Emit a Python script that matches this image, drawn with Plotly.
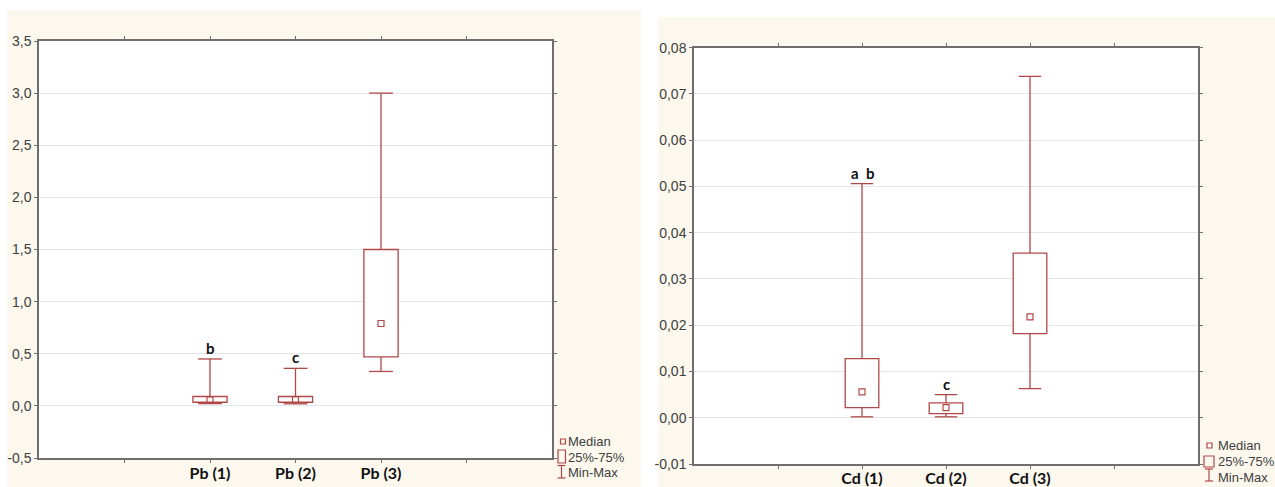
import plotly.graph_objects as go

# ---------------- data ----------------
pb_cats = ["Pb (1)", "Pb (2)", "Pb (3)"]
pb_min = [0.022, 0.020, 0.33]
pb_q1 = [0.035, 0.035, 0.47]
pb_med = [0.057, 0.060, 0.79]
pb_q3 = [0.090, 0.090, 1.50]
pb_max = [0.45, 0.36, 3.00]
pb_letters = ["b", "c", ""]

cd_cats = ["Cd (1)", "Cd (2)", "Cd (3)"]
cd_min = [0.0002, 0.0002, 0.0063]
cd_q1 = [0.0022, 0.0009, 0.0182]
cd_med = [0.0056, 0.0022, 0.0218]
cd_q3 = [0.0128, 0.0032, 0.0356]
cd_max = [0.0506, 0.0050, 0.0738]
cd_letters = ["a b", "c", ""]

pb_yticks = [-0.5, 0.0, 0.5, 1.0, 1.5, 2.0, 2.5, 3.0, 3.5]
cd_yticks = [-0.01, 0.0, 0.01, 0.02, 0.03, 0.04, 0.05, 0.06, 0.07, 0.08]

legend_labels = ["Median", "25%-75%", "Min-Max"]

# ---------------- style ----------------
W, H = 1275, 487
RED = "#B04848"
CREAM = "#FCF8EE"
AXIS = "#6E6E6E"
GRID = "#E6E6E6"
TXT = "#404040"


def px(x):
    return x / W


def py(y):
    return 1 - y / H


fig = go.Figure()
annotations = []


def add_panel(cats, vmin, q1, med, q3, vmax, letters, xa, ya, cap):
    pos = [i + 2 for i in range(len(cats))]
    fig.add_trace(go.Bar(
        x=pos, y=[b - a for a, b in zip(q1, q3)], base=q1, width=0.4,
        marker=dict(color="white", line=dict(color=RED, width=1.3)),
        xaxis=xa, yaxis=ya, showlegend=False, hoverinfo="skip"))
    wx, wy = [], []
    for p, lo, a, b, hi in zip(pos, vmin, q1, q3, vmax):
        wx += [p, p, None, p, p, None]
        wy += [b, hi, None, a, lo, None]
    fig.add_trace(go.Scatter(
        x=wx, y=wy, mode="lines", line=dict(color=RED, width=1.3),
        xaxis=xa, yaxis=ya, showlegend=False, hoverinfo="skip"))
    fig.add_trace(go.Scatter(
        x=pos + pos, y=vmin + vmax, mode="markers",
        marker=dict(symbol="line-ew", size=cap, line=dict(color=RED, width=1.3)),
        xaxis=xa, yaxis=ya, showlegend=False, hoverinfo="skip"))
    fig.add_trace(go.Scatter(
        x=pos, y=med, mode="markers",
        marker=dict(symbol="square-open", size=6, color=RED, line=dict(width=1.2)),
        xaxis=xa, yaxis=ya, showlegend=False))
    xref = "x" if xa == "x" else "x2"
    yref = "y" if ya == "y" else "y2"
    for p, hi, t in zip(pos, vmax, letters):
        if t:
            annotations.append(dict(x=p, y=hi, xref=xref, yref=yref,
                                    text="<b>" + t.replace(" ", "\u00a0\u00a0") + "</b>",
                                    showarrow=False, yanchor="middle", yshift=11,
                                    font=dict(family="Lato, Arial", size=15, color="#111111")))
    return pos


pb_pos = add_panel(pb_cats, pb_min, pb_q1, pb_med, pb_q3, pb_max, pb_letters, "x", "y", 17)
cd_pos = add_panel(cd_cats, cd_min, cd_q1, cd_med, cd_q3, cd_max, cd_letters, "x2", "y2", 16)

# plot-area pixel boxes
L_BOX = (39, 552, 41, 458)
R_BOX = (694, 1198, 47.7, 464)

shapes = [
    dict(type="rect", xref="paper", yref="paper", x0=px(7), x1=px(641), y0=py(487), y1=py(10),
         fillcolor=CREAM, line=dict(width=0), layer="below"),
    dict(type="rect", xref="paper", yref="paper", x0=px(658), x1=px(1275), y0=py(487), y1=py(17),
         fillcolor=CREAM, line=dict(width=0), layer="below"),
]
for b in (L_BOX, R_BOX):
    shapes.append(dict(type="rect", xref="paper", yref="paper", x0=px(b[0]), x1=px(b[1]),
                       y0=py(b[3]), y1=py(b[2]), fillcolor="white", line=dict(width=0), layer="below"))


def add_legend(sq, box, mm, tx, ty, fs):
    shapes.append(dict(type="rect", xref="paper", yref="paper",
                       x0=px(sq[0] - 2.5), x1=px(sq[0] + 2.5), y0=py(sq[1] + 2.5), y1=py(sq[1] - 2.5),
                       line=dict(color=RED, width=1.2), fillcolor="rgba(0,0,0,0)"))
    shapes.append(dict(type="rect", xref="paper", yref="paper",
                       x0=px(box[0]), x1=px(box[1]), y0=py(box[3]), y1=py(box[2]),
                       line=dict(color=RED, width=1.2), fillcolor="rgba(0,0,0,0)"))
    cx = mm[0]
    shapes.append(dict(type="line", xref="paper", yref="paper",
                       x0=px(cx), x1=px(cx), y0=py(mm[1]), y1=py(mm[2]), line=dict(color=RED, width=1.2)))
    for yy in (mm[1], mm[2]):
        shapes.append(dict(type="line", xref="paper", yref="paper",
                           x0=px(cx - 4), x1=px(cx + 4), y0=py(yy), y1=py(yy), line=dict(color=RED, width=1.2)))
    for lab, yy in zip(legend_labels, ty):
        annotations.append(dict(xref="paper", yref="paper", x=px(tx), y=py(yy), text=lab,
                                showarrow=False, xanchor="left", yanchor="middle",
                                font=dict(family="Liberation Sans, Arial", size=fs, color=TXT)))


add_legend((563, 441.5), (558, 565.5, 450, 463), (561.5, 465.5, 478), 566, (441, 457, 472), 13)
add_legend((1209.5, 445.5), (1204, 1214, 456, 467), (1209, 469, 481), 1216, (445.5, 461, 477), 13)

xfont = dict(family="Lato, Arial", size=16, color="#111111", weight="bold")
yfont = dict(family="Liberation Sans, Arial", size=14, color=TXT)
common_x = dict(range=[0, 6], showgrid=False, zeroline=False, showline=True, linecolor=AXIS,
                linewidth=1.5, mirror="ticks", ticks="outside", ticklen=3, tickcolor=AXIS,
                tickfont=xfont, fixedrange=True, automargin=False)
common_y = dict(showgrid=True, gridcolor=GRID, gridwidth=1, zeroline=False, showline=True,
                linecolor=AXIS, linewidth=1.5, mirror="ticks", ticks="outside", ticklen=3,
                tickcolor=AXIS, tickfont=yfont, fixedrange=True, automargin=False)

fig.update_layout(
    width=W, height=H, autosize=False,
    margin=dict(l=0, r=0, t=0, b=0, pad=0, autoexpand=False),
    paper_bgcolor="white", plot_bgcolor="white",
    barmode="overlay", showlegend=False,
    xaxis=dict(common_x, domain=[px(L_BOX[0]), px(L_BOX[1])], anchor="y", ticklabelstandoff=-3,
               tickvals=[1] + pb_pos + [5], ticktext=[""] + pb_cats + [""]),
    yaxis=dict(common_y, domain=[py(L_BOX[3]), py(L_BOX[2])], anchor="x", range=[-0.5, 3.5],
               tickvals=pb_yticks, ticktext=[f"{v:.1f}".replace(".", ",") for v in pb_yticks]),
    xaxis2=dict(common_x, domain=[px(R_BOX[0]), px(R_BOX[1])], anchor="y2", ticklabelstandoff=-4,
                tickvals=[1] + cd_pos + [5], ticktext=[""] + cd_cats + [""]),
    yaxis2=dict(common_y, domain=[py(R_BOX[3]), py(R_BOX[2])], anchor="x2", range=[-0.01, 0.08],
                tickvals=cd_yticks, ticktext=[f"{v:.2f}".replace(".", ",") for v in cd_yticks]),
    shapes=shapes,
    annotations=annotations,
)

fig.write_html("out.html", config={"displayModeBar": False},
               post_script="document.body.style.margin='0';document.body.style.overflow='hidden';")
